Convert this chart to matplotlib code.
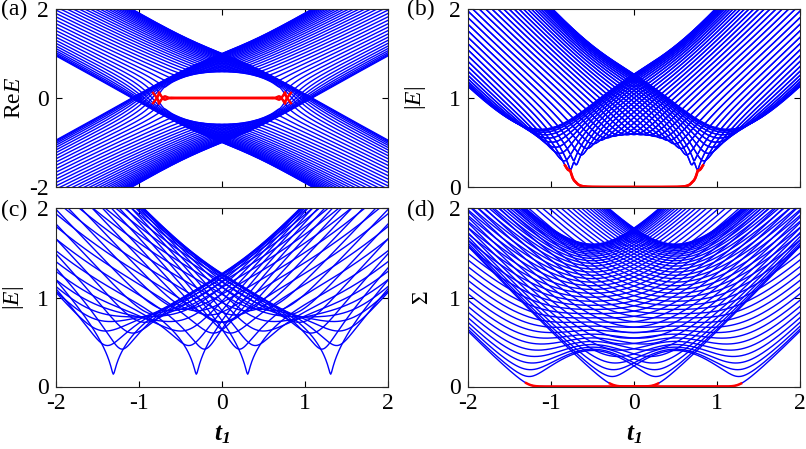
import numpy as np
import matplotlib
matplotlib.use("Agg")
import matplotlib.pyplot as plt

# non-Hermitian SSH chain, spectra against the intra-cell hopping t1
t2 = 1.0        # inter-cell hopping
gamma = 1.0     # nonreciprocal part of the intra-cell hopping
delta = 0.6     # imaginary part of the intra-cell hopping
n_obc = 40      # unit cells, open chain
n_pbc = 40      # unit cells, ring
t1_range = [-2.0, 2.0]
t1_num = 401

x_ticks = [-2, -1, 0, 1, 2]
y_ticks_a = [-2, 0, 2]
y_ticks = [0, 1, 2]
panel_labels = ["(a)", "(b)", "(c)", "(d)"]
y_labels = [r"$\mathrm{Re}E$", r"$|E|$", r"$|E|$", r"$\Sigma$"]

plt.rcParams["font.family"] = ["Liberation Serif", "DejaVu Serif"]
plt.rcParams["mathtext.fontset"] = "custom"
plt.rcParams["mathtext.rm"] = "Liberation Serif"
plt.rcParams["mathtext.it"] = "Liberation Serif:italic"
plt.rcParams["mathtext.bf"] = "Liberation Serif:bold:italic"
plt.rcParams["axes.unicode_minus"] = False
plt.rcParams["font.size"] = 17


def chain(t1, n):
    a = t1 + gamma / 2 + 1j * delta
    c = t1 - gamma / 2 + 1j * delta
    h = np.zeros((2 * n, 2 * n), complex)
    j = np.arange(n)
    h[2 * j, 2 * j + 1] = a
    h[2 * j + 1, 2 * j] = c
    j = j[:-1]
    h[2 * j + 1, 2 * j + 2] = t2
    h[2 * j + 2, 2 * j + 1] = t2
    return h


t1 = np.linspace(t1_range[0], t1_range[1], t1_num)

re_e = np.empty((t1_num, 2 * n_obc))
abs_e = np.empty((t1_num, 2 * n_obc))
sv = np.empty((t1_num, 2 * n_obc))
edge_re = np.full((t1_num, 2), np.nan)
edge_abs = np.full((t1_num, 2), np.nan)
sv_zero = np.full((t1_num, 2), np.nan)

for i, t in enumerate(t1):
    h = chain(t, n_obc)
    ev = np.linalg.eigvals(h)
    re_e[i] = np.sort(ev.real)
    abs_e[i] = np.sort(np.abs(ev))
    sv[i] = np.sort(np.linalg.svd(h, compute_uv=False))
    a = t + gamma / 2 + 1j * delta
    c = t - gamma / 2 + 1j * delta
    # edge states of the open chain
    if abs(a * c) < t2 ** 2:
        e0 = ev[np.argsort(np.abs(ev))[:2]]
        edge_re[i] = np.sort(e0.real)
        edge_abs[i] = np.sort(np.abs(e0))
    # zero singular values
    n0 = int(abs(a) < t2) + int(abs(c) < t2)
    sv_zero[i, :n0] = sv[i, :n0]

# periodic ring
k = 2 * np.pi * np.arange(n_pbc) / n_pbc
h1 = t1[:, None] + gamma / 2 + 1j * delta + t2 * np.exp(-1j * k)
h2 = t1[:, None] - gamma / 2 + 1j * delta + t2 * np.exp(1j * k)
pbc_abs = np.sqrt(np.abs(h1 * h2))

fig = plt.figure(figsize=(8.06, 4.49), dpi=100)
W, H = 806.0, 449.0
lefts = [56 / W, 468 / W, 56 / W, 468 / W]
bottoms = [1 - 187 / H, 1 - 187 / H, 1 - 386.5 / H, 1 - 386.5 / H]
w = 332 / W
hh = 178 / H
axs = [fig.add_axes([lefts[i], bottoms[i], w, hh]) for i in range(4)]

blue = dict(color=(0, 0, 1), lw=1.0)
red = dict(color=(1, 0, 0), lw=1.8)

axs[0].plot(t1, re_e, **blue)
axs[0].plot(t1, edge_re, **red)
axs[1].plot(t1, abs_e, **blue)
axs[1].plot(t1, edge_abs, **red)
axs[2].plot(t1, pbc_abs, **blue)
axs[3].plot(t1, sv, **blue)
axs[3].plot(t1, sv_zero, **red)

label_x = [-0.093, -0.12, -0.09, -0.105]
for i, ax in enumerate(axs):
    ax.set_xlim(-2, 2)
    ax.set_xticks(x_ticks)
    if i == 0:
        ax.set_ylim(-2, 2)
        ax.set_yticks(y_ticks_a)
    else:
        ax.set_ylim(0, 2)
        ax.set_yticks(y_ticks)
    ax.tick_params(direction="in", top=True, right=True, length=4,
                   width=0.8, pad=5)
    if i < 2:
        ax.set_xticklabels([])
    else:
        ax.set_xlabel(r"$\mathbf{t}_{\mathbf{1}}$", fontsize=18)
        ax.xaxis.set_label_coords(0.5, -0.205)
    for s in ax.spines.values():
        s.set_linewidth(0.8)
        s.set_color("#262626")
    ax.set_ylabel(y_labels[i])
    ax.yaxis.set_label_coords(label_x[i], 0.5)

label_pos = [(1, 9), (407, 9), (1, 210), (407, 210)]
for (px, py), lab in zip(label_pos, panel_labels):
    fig.text(px / W, 1 - py / H, lab, ha="left", va="center")

fig.savefig("out.png", dpi=100)
